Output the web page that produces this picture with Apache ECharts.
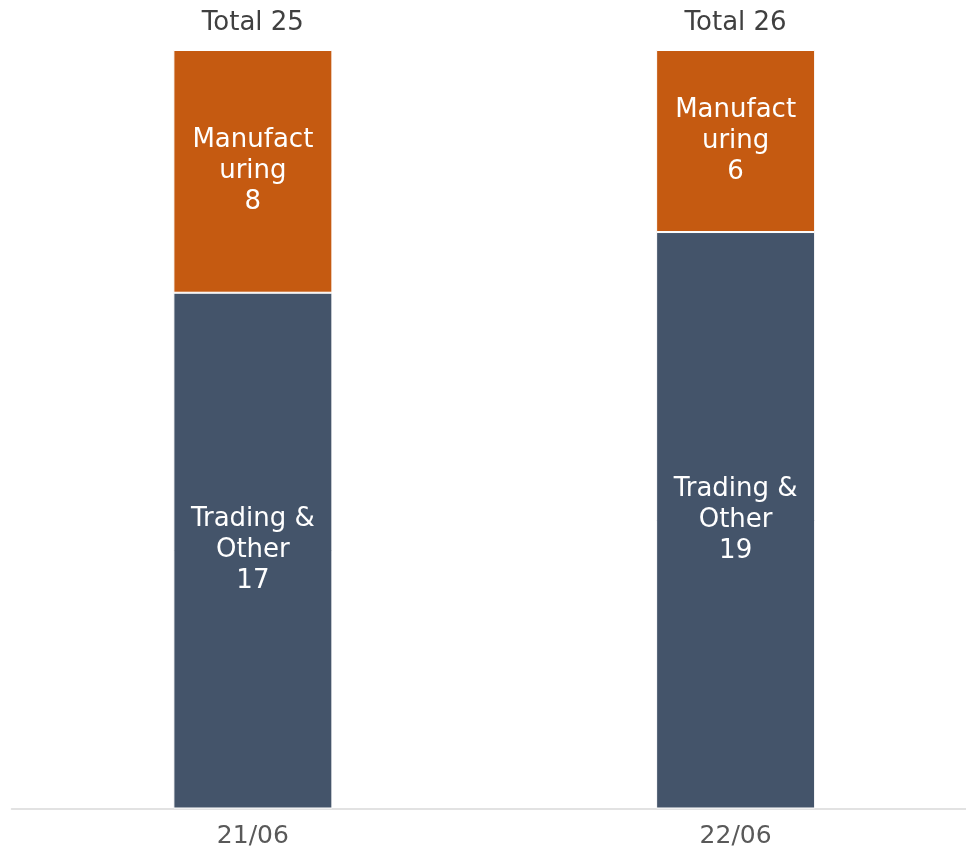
<!DOCTYPE html>
<html><head><meta charset="utf-8">
<script src="https://cdn.jsdelivr.net/npm/echarts@6/dist/echarts.min.js"></script>
<style>html,body{margin:0;padding:0;background:#fff;overflow:hidden}#c{width:977px;height:851px}</style>
</head><body><div id="c"></div>
<script>
var categories = ['21/06', '22/06'];
var trading = [17, 19];
var manufacturing = [8, 6];
var totalLabels = ['Total 25', 'Total 26'];
var tradingName = 'Trading &\nOther';
var manufacturingName = 'Manufact\nuring';

var FONT = '"DejaVu Sans", "Noto Sans", sans-serif';
var chart = echarts.init(document.getElementById('c'));
chart.setOption({
  animation: false,
  grid: {left: 11.5, right: 0, top: 50, bottom: 42.5, containLabel: false},
  xAxis: {
    type: 'category', data: categories,
    axisLine: {lineStyle: {color: '#D9D9D9', width: 1.5}},
    axisTick: {show: false},
    axisLabel: {color: '#595959', fontSize: 25, fontFamily: FONT, margin: 15}
  },
  yAxis: {type: 'value', min: 0, max: 25, show: false, splitLine: {show: false}},
  series: [
    {
      name: 'Trading & Other', type: 'bar', stack: 's', data: trading, barWidth: 159,
      itemStyle: {color: '#44546A', borderColor: '#fff', borderWidth: 1},
      label: {show: true, position: 'inside', color: '#fff', fontSize: 26, fontFamily: FONT, lineHeight: 31,
        formatter: function (p) { return tradingName + '\n' + p.value; }}
    },
    {
      name: 'Manufacturing', type: 'bar', stack: 's', data: manufacturing, barWidth: 159,
      itemStyle: {color: '#C55A11', borderColor: '#fff', borderWidth: 1},
      label: {show: true, position: 'inside', color: '#fff', fontSize: 26, fontFamily: FONT, lineHeight: 31,
        formatter: function (p) { return manufacturingName + '\n' + p.value; }}
    },
    {
      name: 'Total', type: 'bar', stack: 's', data: [0, 0], barWidth: 159,
      itemStyle: {color: 'transparent'},
      label: {show: true, position: 'top', distance: 14, color: '#404040', fontSize: 26, fontFamily: FONT,
        formatter: function (p) { return totalLabels[p.dataIndex]; }}
    }
  ]
});
</script></body></html>
